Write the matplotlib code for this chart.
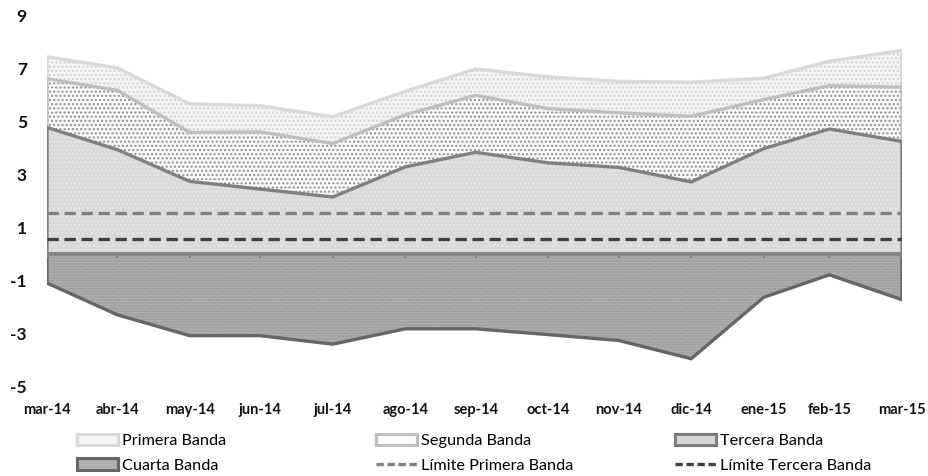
import matplotlib
matplotlib.use("Agg")
import matplotlib.pyplot as plt
from matplotlib.patches import Patch
from matplotlib.lines import Line2D
import pandas as pd

# ---------------- data ----------------
dates = ["2014-03-31", "2014-04-30", "2014-05-31", "2014-06-30", "2014-07-31",
         "2014-08-31", "2014-09-30", "2014-10-31", "2014-11-30", "2014-12-31",
         "2015-01-31", "2015-02-28", "2015-03-31"]
tick_labels = ["mar-14", "abr-14", "may-14", "jun-14", "jul-14", "ago-14", "sep-14",
               "oct-14", "nov-14", "dic-14", "ene-15", "feb-15", "mar-15"]
primera = [7.46, 7.04, 5.68, 5.61, 5.19, 6.16, 7.00, 6.70, 6.53, 6.50, 6.65, 7.29, 7.70]
segunda = [6.63, 6.19, 4.60, 4.62, 4.18, 5.27, 6.00, 5.50, 5.34, 5.21, 5.84, 6.37, 6.31]
tercera = [4.79, 3.95, 2.75, 2.46, 2.16, 3.30, 3.85, 3.45, 3.28, 2.73, 3.99, 4.73, 4.26]
cuarta = [-1.09, -2.29, -3.08, -3.08, -3.40, -2.82, -2.82, -3.04, -3.26, -3.95, -1.63, -0.78, -1.72]
limite_primera = 1.55
limite_tercera = 0.57
y_ticks = [9, 7, 5, 3, 1, -1, -3, -5]

# ---------------- style ----------------
plt.rcParams['font.family'] = ['Lato', 'DejaVu Sans']
plt.rcParams['axes.unicode_minus'] = False
plt.rcParams['hatch.linewidth'] = 1.0

x = pd.to_datetime(dates)

fig = plt.figure(figsize=(9.29, 4.76), dpi=100)
ax = fig.add_axes([47/929, 1-386.5/476, (902-47)/929, (386.5-16)/476])

series = [
    ("Primera Banda", primera, '#f4f4f4', '#d2d2d2', '....', '#d9d9d9'),
    ("Segunda Banda", segunda, '#fafafa', '#8c8c8c', '....', '#bfbfbf'),
    ("Tercera Banda", tercera, '#d9d9d9', '#e6e6e6', '....', '#808080'),
    ("Cuarta Banda", cuarta, '#b0b0b0', '#969696', '......', '#666666'),
]

handles = []
for i, (name, vals, fc, hc, hatch, lc) in enumerate(series):
    z = 1 + i
    ax.fill_between(x, vals, 0, facecolor=fc, edgecolor=hc, hatch=hatch,
                    linewidth=0, zorder=z)
    ax.fill_between(x, vals, 0, facecolor='none', edgecolor=lc,
                    linewidth=2.4, zorder=z + 0.5, joinstyle='miter')
    handles.append(Patch(facecolor=fc, edgecolor=lc, linewidth=2.2, label=name))

ax.axhline(0, color='#868686', linewidth=2.4, zorder=6)
ax.vlines(x, -0.13, 0, color='#868686', linewidth=1.5, zorder=6)

ax.axhline(limite_primera, color='#808080', linewidth=2.4, dashes=(3.4, 1.7), zorder=7)
ax.axhline(limite_tercera, color='#404040', linewidth=2.4, dashes=(3.4, 1.7), zorder=7)

ax.set_xlim(x[0], x[-1])
ax.set_ylim(-5, 9)
ax.set_yticks(y_ticks)
ax.set_yticklabels([str(v) for v in y_ticks])
ax.tick_params(axis='y', length=0, pad=14.5, labelsize=12.5, labelcolor='#111111')
for lab in ax.get_yticklabels():
    lab.set_fontweight('bold')
ax.set_xticks(x)
ax.set_xticklabels(tick_labels)
ax.tick_params(axis='x', length=0, pad=12, labelsize=10.5, labelcolor='#111111')
for lab in ax.get_xticklabels():
    lab.set_fontweight('bold')
for s in ax.spines.values():
    s.set_visible(False)

# legend: three columns, positioned separately
line_h1 = Line2D([], [], color='#808080', linewidth=2.4, dashes=(2.2, 1.1), label="Límite Primera Banda")
line_h2 = Line2D([], [], color='#404040', linewidth=2.4, dashes=(2.2, 1.1), label="Límite Tercera Banda")
cols = [
    ([handles[0], handles[3]], 77),
    ([handles[1], line_h1], 376),
    ([handles[2], line_h2], 675),
]
for hs, xpix in cols:
    fig.legend(handles=hs, loc='upper left', bbox_to_anchor=(xpix/929, 1-434/476),
               frameon=False, borderpad=0, borderaxespad=0, handlelength=2.55,
               handleheight=0.7, handletextpad=0.2, labelspacing=0.62,
               fontsize=11.7)

fig.savefig("out.png", dpi=100)
